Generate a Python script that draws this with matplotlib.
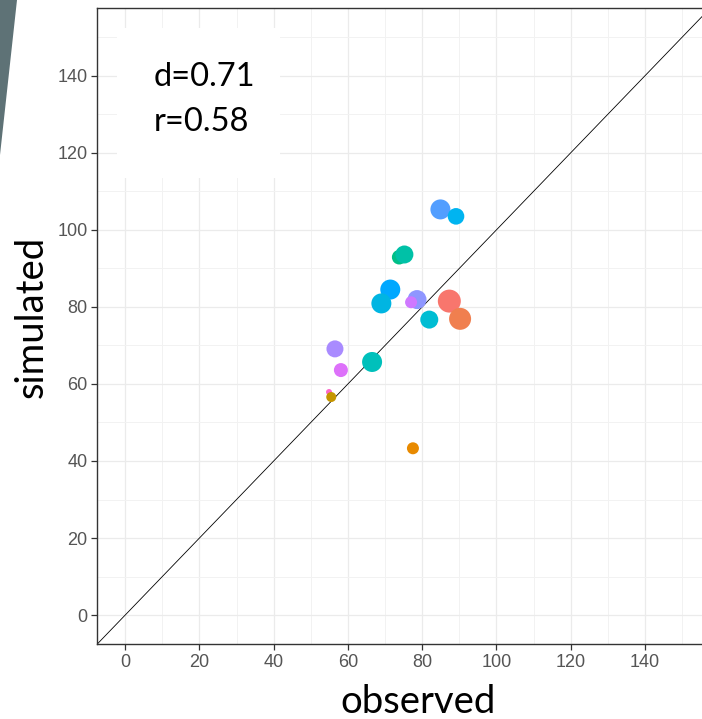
import matplotlib
matplotlib.use("Agg")
import matplotlib.pyplot as plt
from matplotlib.patches import Polygon, Rectangle

# values
observed = [84.9, 89.1, 73.8, 75.2, 71.4, 69.0, 78.6, 77.0, 87.3, 90.2,
            81.9, 56.5, 66.5, 58.1, 54.9, 55.5, 77.5]
simulated = [105.3, 103.5, 92.9, 93.6, 84.5, 80.9, 81.9, 81.2, 81.5, 76.9,
             76.7, 69.1, 65.7, 63.6, 57.9, 56.6, 43.3]
weight = [10, 8.3, 7.3, 9, 10, 10, 9.5, 6, 11.5, 11, 9, 8.5, 10, 7, 3, 5, 6]
colors = ["#529EFF", "#00B4F0", "#00BF86", "#00C1A7", "#00A8FF", "#00B5E2",
          "#8F96FF", "#CF78FF", "#F8766D", "#F07F4F", "#00BDD3", "#A98BFF",
          "#00C0BB", "#DD71FA", "#FB67C8", "#C59500", "#E88A00"]
ticks = [0, 20, 40, 60, 80, 100, 120, 140]
minor = [10, 30, 50, 70, 90, 110, 130, 150]
stats = ["d=0.71", "r=0.58"]

W, H = 702, 719
fig = plt.figure(figsize=(W / 100, H / 100), dpi=100)
fig.patch.set_facecolor("white")

# axes placed in pixel terms (right side runs off the slide)
left, right, top, bottom = 97.3, 710, 8.3, 644
ax = fig.add_axes([left / W, 1 - bottom / H, (right - left) / W, (bottom - top) / H])
ax.set_xlim(-7.5, 157.5)
ax.set_ylim(-7.5, 157.5)

ax.set_xticks(ticks)
ax.set_yticks(ticks)
ax.set_xticks(minor, minor=True)
ax.set_yticks(minor, minor=True)
ax.grid(True, which="major", color="#ebebeb", lw=0.9)
ax.grid(True, which="minor", color="#f2f2f2", lw=0.7)
ax.set_axisbelow(True)
ax.tick_params(which="major", length=4, width=0.9, color="#333333",
               labelsize=13, labelcolor="#555555", pad=3)
ax.tick_params(which="minor", length=0)
for lab in ax.get_xticklabels() + ax.get_yticklabels():
    lab.set_family("Liberation Sans")
for s in ax.spines.values():
    s.set_color("#333333")
    s.set_linewidth(1.0)

ax.axline((0, 0), slope=1, color="black", lw=0.6, zorder=2)

sizes = [(2 * r * 0.72) ** 2 for r in weight]
ax.scatter(observed, simulated, s=sizes, c=colors, linewidths=0, zorder=3)

# white text box of the slide covering the grid
ax.add_patch(Rectangle(((117 - left) / (right - left), 1 - (178 - top) / (bottom - top)),
                       (280 - 117) / (right - left), (178 - 28) / (bottom - top),
                       transform=ax.transAxes, facecolor="white", edgecolor="none",
                       zorder=1.5))

fig.text(154 / W, 1 - 86 / H, stats[0], fontsize=23.5, family="Lato",
         ha="left", va="baseline")
fig.text(154 / W, 1 - 130.7 / H, stats[1], fontsize=23.5, family="Lato",
         ha="left", va="baseline")

fig.text(418 / W, 1 - 713 / H, "observed", fontsize=27.5, family="Lato",
         ha="center", va="baseline")
fig.text(43 / W, 1 - 317 / H, "simulated", fontsize=27.5, family="Lato",
         ha="center", va="baseline", rotation=90, rotation_mode="anchor")

# slide decoration at top-left
fig.patches.append(Polygon([(0, 1), (17 / W, 1), (0, 1 - 155 / H)], closed=True,
                           transform=fig.transFigure, facecolor="#5E7276",
                           edgecolor="none"))

fig.savefig("out.png", dpi=100)
